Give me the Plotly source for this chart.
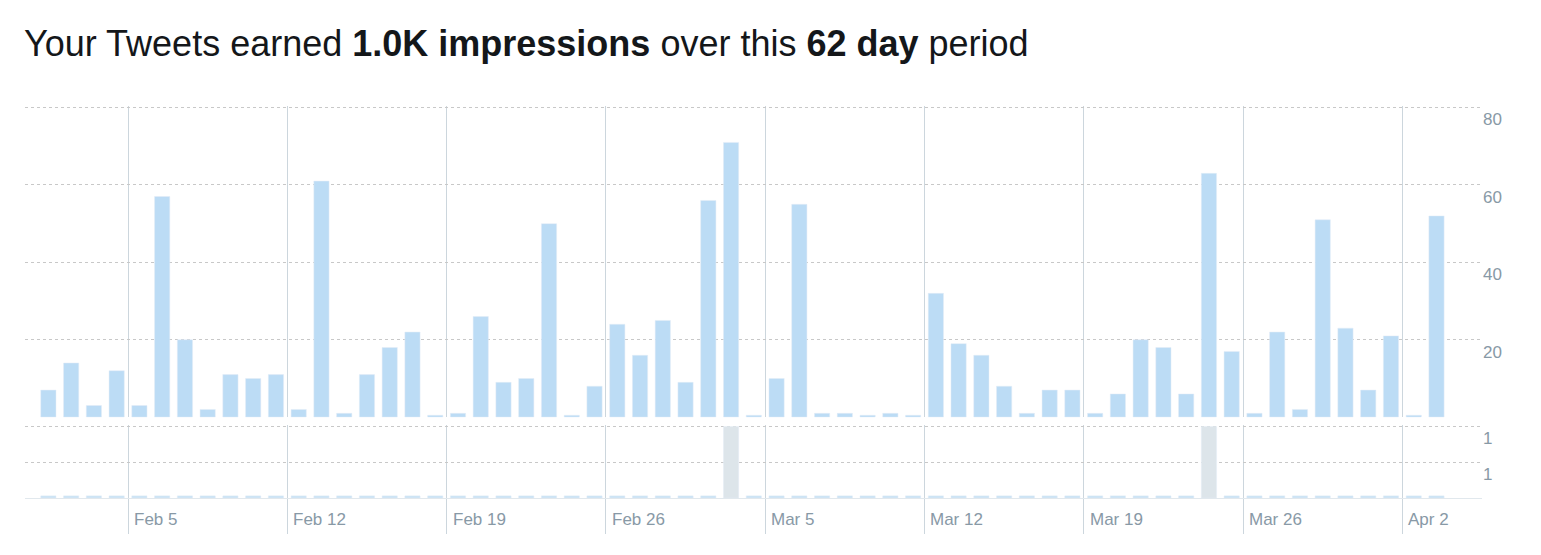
import pandas as pd
import plotly.graph_objects as go
from plotly.subplots import make_subplots

# daily impressions, Feb 1 .. Apr 3
impressions = [
    7, 14, 3, 12,
    3, 57, 20, 2, 11, 10, 11,
    2, 61, 1, 11, 18, 22, 0.5,
    1, 26, 9, 10, 50, 0.5, 8,
    24, 16, 25, 9, 56, 71, 0.5,
    10, 55, 1, 1, 0.5, 1, 0.5,
    32, 19, 16, 8, 1, 7, 7,
    1, 6, 20, 18, 6, 63, 17,
    1, 22, 2, 51, 23, 7, 21,
    0.5, 52,
]
days = pd.date_range("2017-02-01", periods=len(impressions), freq="D")
# second metric: only two days have a value
lower_days = ["2017-03-03", "2017-03-24"]
lower = [1 if d.strftime("%Y-%m-%d") in lower_days else 0.03 for d in days]
lower_colors = ["#dde5ea" if v >= 1 else "#c9e2f5" for v in lower]

week_starts = pd.date_range("2017-02-05", "2017-04-02", freq="7D")
week_labels = [d.strftime("%b ") + str(d.day) for d in week_starts]

font = "Liberation Sans, Arial, sans-serif"
grey = "#8899a6"

fig = make_subplots(rows=2, cols=1, shared_xaxes=True, row_heights=[0.81, 0.19],
                    vertical_spacing=0.02)
mid = days + pd.Timedelta(hours=12)
fig.add_trace(go.Bar(x=mid, y=impressions, marker_color="#bcdcf5", hoverinfo="x+y"), 1, 1)
fig.add_trace(go.Bar(x=mid, y=lower, marker_color=lower_colors), 2, 1)

xr = [pd.Timestamp("2017-01-31 11:20"), pd.Timestamp("2017-04-05 12:00")]
common_x = dict(range=xr, tick0=week_starts[0], dtick=7 * 86400000, showgrid=True,
                gridcolor="#ccd6dd", gridwidth=1, zeroline=False, showticklabels=False)
fig.update_xaxes(**common_x)
fig.update_xaxes(ticks="outside", ticklen=35, tickcolor="#ccd6dd", showline=True,
                 linecolor="#e1e8ed", row=2, col=1)

yc = dict(side="right", showgrid=True, gridcolor="#c8c8c8", griddash="dot",
          zeroline=False, ticklabelposition="outside bottom",
          tickfont=dict(size=17, color=grey, family=font))
fig.update_yaxes(range=[0, 80.4], tickvals=[0, 20, 40, 60, 80], ticktext=["", "20", "40", "60", "80"],
                 **yc, row=1, col=1)
fig.update_yaxes(range=[0, 1.02], tickvals=[0, 0.5, 1], ticktext=["", "1", "1"], **yc, row=2, col=1)

for d, lab in zip(week_starts, week_labels):
    fig.add_annotation(x=d, y=0, xref="x2", yref="paper", text=lab, showarrow=False,
                       xanchor="left", yanchor="top", xshift=4, yshift=-10,
                       font=dict(size=17, color=grey, family=font))

fig.add_annotation(
    x=0, y=1, xref="paper", yref="paper", xanchor="left", yanchor="bottom", xshift=-3, yshift=40,
    text="Your Tweets earned <b>1.0K impressions</b> over this <b>62 day</b> period",
    showarrow=False, font=dict(size=36, color="#14171a", family=font))

fig.update_layout(width=1541, height=555, showlegend=False, bargap=0.33,
                  plot_bgcolor="white", paper_bgcolor="white",
                  margin=dict(l=17, r=67, t=98, b=65))
fig.write_html("out.html")
